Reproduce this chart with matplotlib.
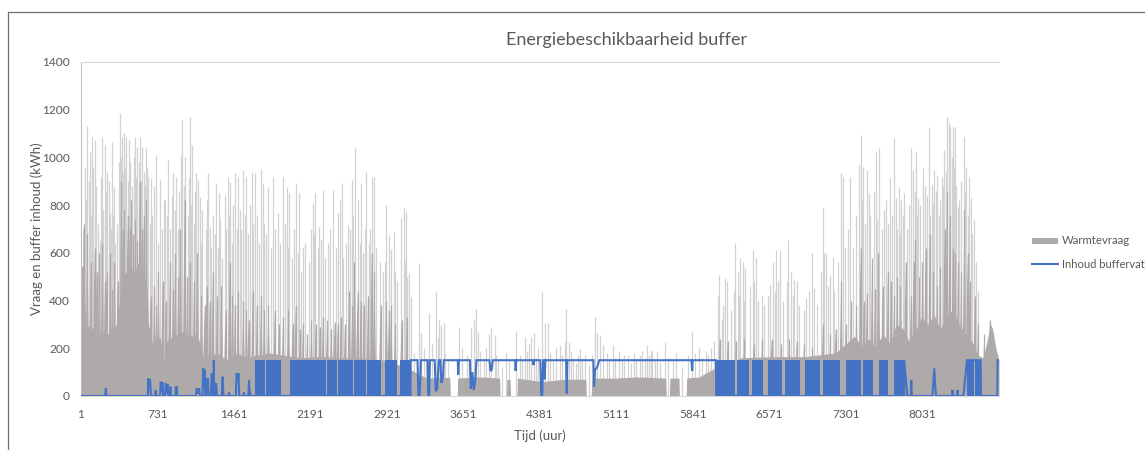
import numpy as np
import matplotlib
matplotlib.use("Agg")
import matplotlib.pyplot as plt
from matplotlib.lines import Line2D
from matplotlib.patches import Rectangle

# ---------------- data ----------------
tick_hours = [1, 731, 1461, 2191, 2921, 3651, 4381, 5111, 5841, 6571, 7301, 8031]
y_ticks = [0, 200, 400, 600, 800, 1000, 1200, 1400]

# Heat demand: lower envelope of the hourly demand (kWh)
base_hours = [1, 25, 45, 100, 160, 220, 300, 340, 370, 400, 430, 470, 510, 550, 590, 625,
              645, 680, 720, 760, 795, 820, 880, 930, 980, 1040, 1100, 1130, 1170, 1230,
              1300, 1360, 1420, 1480, 1540, 1600, 1660, 1800, 1950, 2100, 2300, 2500, 2700,
              2900, 3100, 3300, 3520, 3525, 3590, 3595, 3800, 3995, 4000, 4060, 4065, 4095,
              4100, 4160, 4165, 4400, 4600, 4817, 4822, 4870, 4875, 5100, 5300, 5580, 5585,
              5615, 5620, 5706, 5711, 5775, 5780, 5900, 6060, 6300, 6600, 6900, 7200, 7380,
              7450, 7520, 7580, 7650, 7720, 7780, 7850, 7900, 7960, 8020, 8080, 8140, 8200,
              8260, 8320, 8380, 8440, 8500, 8560, 8610, 8650, 8680, 8700, 8730, 8760]
base_kwh = [540, 545, 300, 285, 270, 260, 260, 300, 400, 500, 520, 540, 520, 560, 520, 480,
            300, 220, 250, 240, 130, 230, 250, 260, 270, 250, 260, 230, 160, 170,
            180, 160, 150, 180, 170, 160, 170, 180, 170, 160, 165, 160, 160,
            150, 120, 75, 78, 0, 0, 75, 80, 75, 0, 0, 70, 70,
            0, 0, 75, 60, 70, 70, 0, 0, 75, 75, 80, 75, 0,
            0, 75, 75, 0, 0, 75, 80, 120, 160, 165, 165, 180, 250,
            210, 240, 200, 260, 220, 300, 280, 230, 270, 330, 300, 340, 280,
            340, 360, 300, 260, 230, 170, 160, 240, 300, 280, 200, 150]

# Heat demand: broader daily peaks (kWh)
ridge_hours = [30, 62, 95, 130, 150, 175, 205, 230, 245, 280, 300, 320, 350, 385, 400, 415,
               445, 465, 480, 500, 520, 540, 560, 580, 600, 625, 665, 700, 720, 740, 780,
               810, 850, 880, 900, 930, 950, 990, 1015, 1040, 1080, 1110, 1150, 1180, 1200,
               1230, 1260, 1300, 1340, 1380, 1420, 1445, 1470, 1500, 1550, 1580, 1600, 1640,
               1680, 1720, 1750, 1790, 1850, 1890, 1930, 1980, 2020, 2050, 2090, 2120, 2160,
               2200, 2240, 2280, 2310, 2350, 2390, 2420, 2450, 2480, 2520, 2560, 2590, 2610,
               2640, 2670, 2700, 2740, 2775, 2800, 2860, 2915, 2940, 2960, 3000, 3060, 3110,
               6095, 6170, 6250, 6330, 6420, 6500, 6590, 6680, 6760, 6830, 6900, 6980, 7080,
               7150, 7200, 7255, 7300, 7350, 7400, 7440, 7470, 7500, 7550, 7580, 7610, 7650,
               7700, 7730, 7760, 7790, 7820, 7870, 7920, 7945, 7960, 8000, 8030, 8060, 8100,
               8135, 8170, 8200, 8240, 8265, 8290, 8320, 8340, 8370, 8400, 8430, 8460, 8480,
               8530, 8560, 8620, 8670]
ridge_kwh = [720, 680, 560, 620, 520, 600, 640, 480, 520, 600, 450, 560, 480, 900, 700, 780,
             760, 700, 820, 680, 740, 650, 900, 700, 760, 820, 420, 460, 380, 520, 480,
             400, 560, 450, 600, 500, 700, 820, 500, 560, 480, 600, 420, 380, 460,
             400, 520, 420, 460, 360, 560, 420, 380, 440, 400, 360, 320, 440,
             380, 420, 360, 380, 360, 300, 330, 360, 300, 380, 280, 300, 260,
             320, 300, 290, 330, 320, 280, 310, 300, 330, 300, 440, 380, 560,
             440, 400, 380, 420, 600, 520, 380, 400, 360, 380, 300, 320, 330,
             240, 230, 230, 240, 220, 240, 240, 220, 240, 230, 220, 200, 300,
             260, 280, 480, 300, 400, 380, 620, 400, 430, 580, 450, 600, 460,
             520, 480, 420, 500, 460, 560, 420, 560, 660, 500, 560, 620, 680,
             520, 460, 540, 700, 860, 760, 620, 600, 560, 520, 780, 600, 480,
             420, 300, 260, 320]

# Heat demand: hourly maxima (kWh)
peak_hours = [38, 60, 86, 108, 130, 181, 203, 229, 251, 276, 295, 317, 371, 390, 409, 435,
              460, 514, 536, 562, 587, 625, 641, 667, 720, 752, 790, 832, 879, 911, 959, 968,
              990, 1041, 1063, 1101, 1117, 1133, 1212, 1228, 1292, 1314, 1371, 1403, 1425,
              1470, 1498, 1548, 1580, 1628, 1657, 1717, 1736, 1787, 1831, 1879, 1930, 1962,
              1990, 2051, 2085, 2121, 2212, 2238, 2276, 2312, 2407, 2450, 2473, 2487, 2552,
              2582, 2620, 2641, 2673, 2725, 2773, 2794, 2915, 2940, 2962, 2985, 3058, 3080,
              3106, 3131, 3153, 3227, 3249, 3270, 3322, 3392, 3410, 3420, 3440, 3462, 3608,
              3725, 3748, 3773, 3790, 3893, 3916, 3948, 4059, 4155, 4240, 4275, 4298, 4320,
              4400, 4425, 4460, 4568, 4616, 4632, 4657, 4741, 4759, 4807, 4902, 4927, 4950,
              4980, 5075, 5186, 5331, 5404, 5441, 5452, 5570, 5832, 5982,
              6092, 6118, 6143, 6169, 6245, 6268, 6293, 6316, 6341, 6411, 6443, 6500, 6579,
              6608, 6633, 6671, 6751, 6776, 6808, 6833, 6919, 6977, 6999, 7078, 7110, 7148,
              7174, 7253, 7269, 7342, 7428, 7444, 7466, 7498, 7517, 7587, 7612, 7682, 7723,
              7755, 7777, 7803, 7825, 7850, 7920, 7942, 7968, 7990, 8031, 8088, 8120, 8142,
              8168, 8215, 8238, 8263, 8279, 8295, 8317, 8343, 8365, 8422, 8445, 8470, 8492,
              8524]
peak_kwh = [954, 1131, 1024, 1087, 1073, 654, 1087, 1052, 940, 766, 1066, 878, 1185, 1087,
            1101, 1087, 1073, 1087, 1045, 1087, 1045, 1038, 919, 912, 1010, 905, 821, 989,
            933, 919, 1010, 1157, 1003, 1171, 1052, 933, 905, 835, 933, 710, 891, 849, 842,
            919, 898, 933, 919, 947, 919, 940, 933, 950, 891, 877, 919, 766, 919, 877,
            849, 891, 849, 626, 807, 849, 710, 863, 863, 766, 821, 891, 717,
            905, 1038, 821, 891, 940, 919, 919, 800, 675, 616, 688, 745, 786,
            772, 515, 417, 556, 262, 200, 347, 437, 242, 319, 298, 307, 290,
            290, 321, 363, 270, 260, 290, 255, 185, 272, 249, 220, 248, 262,
            437, 307, 305, 213, 227, 363, 227, 172, 199, 171, 332, 262, 255,
            214, 213, 172, 171, 213, 193, 185, 227, 269, 171,
            507, 321, 493, 480, 640, 521, 577, 563, 535, 612, 577, 419, 465,
            563, 612, 612, 654, 521, 486, 480, 409, 598, 451, 786, 598, 507,
            584, 933, 919, 919, 968, 1094, 961, 947, 849, 1024, 1038, 821, 912,
            1080, 828, 877, 821, 849, 1038, 947, 1024, 828, 954, 1128, 884, 947,
            926, 919, 1031, 1170, 1149, 1128, 1128, 1128, 793, 1084, 961, 919, 828,
            744]

# Heat demand: lower hourly maxima (kWh)
minor_peak_hours = [20, 48, 73, 97, 118, 145, 160, 192, 215, 240, 265, 284, 306, 330, 345,
                    360, 380, 398, 420, 448, 470, 490, 502, 525, 550, 575, 600, 612, 633, 655,
                    680, 700, 735, 770, 805, 820, 850, 865, 895, 925, 940, 980, 1020, 1030,
                    1052, 1080, 1090, 1145, 1160, 1190, 1200, 1240, 1260, 1275, 1305, 1330,
                    1350, 1385, 1415, 1440, 1455, 1485, 1515, 1530, 1565, 1595, 1615, 1640,
                    1680, 1700, 1750, 1770, 1810, 1850, 1900, 1945, 1975, 2010, 2030, 2070,
                    2100, 2140, 2180, 2195, 2225, 2260, 2290, 2330, 2360, 2380, 2430, 2500,
                    2530, 2565, 2600, 2660, 2690, 2710, 2745, 2760, 2820, 2850, 2880, 2900,
                    3000, 3020, 3090, 3115,
                    3180, 3290, 3350, 3470, 3500, 3640, 3680, 3700, 3810, 3850, 3870, 3960,
                    3980, 4020, 4080, 4190, 4210, 4260, 4340, 4360, 4480, 4500, 4530, 4590,
                    4680, 4700, 4720, 4780, 4850, 4880, 5020, 5040, 5100, 5130, 5160, 5220,
                    5250, 5280, 5300, 5350, 5380, 5420, 5480, 5500, 5530, 5600, 5650, 5680,
                    5740, 5790, 5860, 5900, 5930, 5960, 6010, 6040,
                    6080, 6130, 6200, 6230, 6280, 6330, 6380, 6425, 6460, 6520, 6560, 6620,
                    6650, 6700, 6740, 6790, 6850, 6900, 6950, 7020, 7060, 7095, 7130, 7190,
                    7220, 7290, 7320, 7370, 7400, 7455, 7480, 7530, 7570, 7600, 7640, 7665,
                    7700, 7740, 7790, 7815, 7840, 7880, 7905, 7955, 7980, 8010, 8050, 8075,
                    8105, 8130, 8155, 8185, 8200, 8225, 8250, 8310, 8330, 8350, 8380, 8400,
                    8435, 8460, 8505, 8540, 8560]
minor_peak_kwh = [700, 820, 900, 760, 960, 880, 720, 920, 780, 860, 900, 700, 760, 640, 720,
                  980, 1000, 940, 960, 900, 980, 880, 1000, 920, 980, 900, 940, 880, 960, 720,
                  760, 880, 640, 700, 820, 760, 700, 840, 780, 700, 860, 880, 760, 920,
                  800, 720, 860, 640, 780, 700, 820, 620, 760, 680, 620, 740,
                  580, 700, 760, 640, 800, 700, 780, 700, 760, 680, 800, 720,
                  760, 640, 720, 680, 620, 700, 640, 720, 620, 580, 700, 600,
                  520, 640, 560, 700, 680, 620, 660, 580, 640, 700, 620, 580,
                  640, 700, 760, 640, 600, 700, 640, 700, 620, 560, 520, 560,
                  520, 480, 560, 500,
                  180, 160, 220, 180, 150, 200, 170, 140, 190, 160, 200, 170,
                  150, 120, 150, 170, 150, 190, 160, 200, 180, 150, 200, 170,
                  190, 160, 140, 150, 130, 170, 180, 150, 160, 190, 150, 170,
                  140, 180, 150, 190, 160, 170, 150, 190, 140, 160, 150, 180,
                  120, 170, 180, 200, 160, 190, 200, 230,
                  420, 380, 360, 440, 420, 400, 460, 480, 400, 380, 420, 440,
                  480, 400, 480, 420, 380, 360, 440, 380, 520, 600, 460, 440,
                  560, 620, 700, 620, 760, 820, 720, 760, 860, 740, 700, 780,
                  720, 760, 700, 680, 760, 700, 800, 860, 760, 800, 880, 840,
                  760, 800, 860, 760, 820, 880, 940, 1000, 960, 880, 820, 900,
                  860, 760, 680, 560, 440]

# Buffer content (kWh)
buffer_capacity = 150
buffer_hours = [1, 232, 238, 244, 638, 645, 652, 660, 668, 710, 714, 718, 756, 762, 770, 778,
                786, 804, 810, 818, 826, 834, 850, 854, 858, 902, 906, 912, 916, 920, 1098,
                1105, 1118, 1128, 1135, 1160, 1166, 1172, 1180, 1186, 1195, 1200, 1206, 1212,
                1218, 1240, 1248, 1256, 1262, 1266, 1268, 1272, 1284, 1290, 1298, 1345, 1352,
                1360, 1410, 1413, 1416, 1478, 1486, 1495, 1504, 1510, 1553, 1556, 1559, 1598,
                1604, 1610, 1614, 1618, 3145,
                3146, 3212, 3220, 3232, 3245, 3308, 3314, 3324, 3330, 3376, 3385, 3400, 3414,
                3430, 3440, 3455, 3462, 3596, 3600, 3606, 3712, 3720, 3735, 3748, 3762, 3774,
                3898, 3908, 3920, 3930, 4143, 4148, 4154, 4312, 4318, 4326, 4384, 4392, 4402,
                4410, 4420, 4425, 4432, 4630, 4636, 4642, 4890, 4896, 4906, 4925, 4946, 5826,
                5832, 5838, 6060,
                6061, 7855, 7856, 7885, 7918, 7923, 7928, 8125, 8142, 8158, 8313, 8317, 8321,
                8361, 8365, 8369, 8420, 8455, 8585, 8588, 8744, 8746, 8760]
buffer_kwh = [0, 0, 32, 0, 0, 74, 30, 70, 0, 0, 25, 0, 0, 60, 20, 58,
              0, 0, 53, 15, 50, 0, 0, 39, 0, 0, 39, 20, 39, 0, 0,
              32, 10, 32, 0, 0, 116, 40, 110, 0, 0, 74, 30, 74,
              0, 0, 95, 40, 95, 0, 151, 0, 0, 53, 0, 0, 81,
              0, 0, 15, 0, 0, 95, 60, 95, 0, 0, 15, 0, 0,
              67, 0, 20, 0, 0,
              150, 150, 0, 0, 150, 150, 0, 0, 150, 150, 20, 30, 150,
              150, 55, 80, 150, 150, 90, 150, 150, 30, 100, 25, 60, 150,
              150, 105, 110, 150, 150, 105, 150, 150, 130, 150, 150, 0, 0,
              150, 150, 70, 150, 150, 10, 150, 150, 40, 110, 120, 150, 150,
              105, 150, 150,
              0, 0, 150, 0, 0, 67, 0, 0, 116, 0, 0, 25, 0,
              0, 25, 0, 0, 150, 150, 0, 0, 150, 150]

# Stretches where the buffer charges and discharges within a few hours
cycling_from = [1657, 1710, 1766, 1856, 1994, 2345, 2456, 2606, 2728, 2900, 3042,
                6061, 6262, 6400, 6560, 6722, 6912, 7080, 7296, 7458, 7618, 7754,
                8455, 8530]
cycling_to = [1705, 1760, 1850, 1912, 2337, 2448, 2600, 2718, 2868, 3015, 3145,
              6240, 6370, 6510, 6685, 6860, 7050, 7240, 7445, 7555, 7697, 7860,
              8520, 8585]

# ---------------- drawing ----------------
GRAY = "#aeaaaa"
LIGHT = "#d3d1d1"
BLUE = "#4472c4"
TEXT = "#595959"

plt.rcParams["font.family"] = ["Lato", "DejaVu Sans"]

W, H = 1145, 450
fig = plt.figure(figsize=(W / 100, H / 100), dpi=100)
ax = fig.add_axes([81 / W, (H - 396) / H, 918 / W, 334 / H])

# thin hourly maxima show up light, the broader peaks and the base dark
ax.vlines(peak_hours, 0, peak_kwh, colors=LIGHT, lw=0.9, zorder=1)
ax.vlines(minor_peak_hours, 0, minor_peak_kwh, colors=LIGHT, lw=0.9, zorder=1)
ax.fill_between(base_hours, 0, base_kwh, color=GRAY, lw=0, zorder=2)
half = 20
for h, v in zip(ridge_hours, ridge_kwh):
    ax.fill([h - half, h, h + half], [0, v, 0], color=GRAY, lw=0, zorder=2)
ax.vlines(ridge_hours, 0, ridge_kwh, colors=GRAY, lw=0.9, zorder=2)

for a, b in zip(cycling_from, cycling_to):
    ax.fill_between([a, b], 0, buffer_capacity, color=BLUE, lw=0, zorder=3)
ax.plot(buffer_hours, buffer_kwh, color=BLUE, lw=1.5, zorder=4, solid_joinstyle="miter")

ax.set_xlim(1, 8760)
ax.set_ylim(0, 1400)
ax.set_xticks(tick_hours)
ax.set_xticklabels([str(t) for t in tick_hours])
ax.set_yticks(y_ticks)
ax.tick_params(axis="both", length=0, labelsize=8.6, labelcolor=TEXT)
ax.tick_params(axis="x", pad=9)
ax.tick_params(axis="y", pad=8)

ax.spines["right"].set_visible(False)
ax.spines["top"].set_color("#d9d9d9")
ax.spines["bottom"].set_color("#d9d9d9")
ax.spines["left"].set_color("#bfbfbf")
for s in ax.spines.values():
    s.set_linewidth(0.8)

ax.set_ylabel("Vraag en buffer inhoud (kWh)", fontsize=9.5, color=TEXT)
ax.yaxis.set_label_coords(-0.041, 0.5)
ax.set_xlabel("Tijd (uur)", fontsize=9.5, color=TEXT)
ax.xaxis.set_label_coords(0.5, -0.1)

fig.text(627 / W, 1 - 40 / H, "Energiebeschikbaarheid buffer", fontsize=13.0,
         color=TEXT, ha="center", va="center")

# legend
fig.patches.append(Rectangle((1032 / W, 1 - 244 / H), 26 / W, 6 / H,
                             transform=fig.transFigure, color=GRAY, lw=0))
fig.text(1062 / W, 1 - 241 / H, "Warmtevraag", fontsize=8.2, color=TEXT, va="center")
fig.lines.append(Line2D([1032 / W, 1058 / W], [1 - 264 / H, 1 - 264 / H],
                        transform=fig.transFigure, color=BLUE, lw=1.5))
fig.text(1062 / W, 1 - 264 / H, "Inhoud buffervat", fontsize=8.0, color=TEXT, va="center")

# chart frame
fig.lines.append(Line2D([7.5 / W, 7.5 / W], [0, 1 - 11.5 / H],
                        transform=fig.transFigure, color="#6e6e6e", lw=0.9))
fig.lines.append(Line2D([7.5 / W, 1], [1 - 11.5 / H, 1 - 11.5 / H],
                        transform=fig.transFigure, color="#6e6e6e", lw=0.9))

fig.savefig("out.png", dpi=100)
